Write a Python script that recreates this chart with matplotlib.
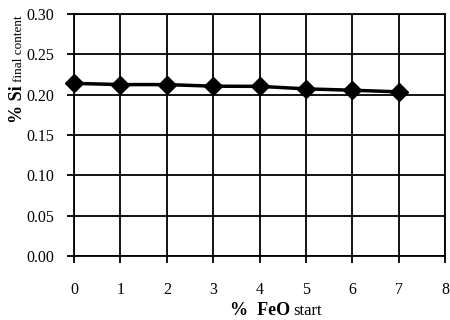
import matplotlib
matplotlib.use("Agg")
import matplotlib.pyplot as plt

# data
feo_start = [0, 1, 2, 3, 4, 5, 6, 7]
si_final = [0.214, 0.2125, 0.2125, 0.2105, 0.2103, 0.2072, 0.2055, 0.2035]
x_ticks = [0, 1, 2, 3, 4, 5, 6, 7, 8]
y_ticks = [0.00, 0.05, 0.10, 0.15, 0.20, 0.25, 0.30]

plt.rcParams['font.family'] = ['Liberation Serif', 'DejaVu Serif']

fig = plt.figure(figsize=(4.5, 3.2), dpi=100)
ax = fig.add_axes([74 / 450, 1 - 256 / 320, (445 - 74) / 450, (256 - 14) / 320])

ax.plot(feo_start, si_final, color='black', lw=2.5, marker='D', markersize=9,
        markerfacecolor='black', markeredgecolor='black', clip_on=False, zorder=3)

ax.set_xlim(0, 8)
ax.set_ylim(0, 0.30)
ax.set_xticks(x_ticks)
ax.set_yticks(y_ticks)
ax.set_yticklabels([f"{v:.2f}" for v in y_ticks])
ax.grid(True, color='black', lw=1.3)
ax.set_axisbelow(True)
for s in ax.spines.values():
    s.set_linewidth(1.3)
ax.tick_params(axis='both', direction='out', length=5, width=1.3, labelsize=11.5)
ax.tick_params(axis='x', pad=14)
ax.tick_params(axis='y', pad=9)

# x label: bold part + normal part
fig.text(230 / 450, 1 - 315 / 320, "%  FeO", fontsize=13, fontweight='bold',
         ha='left', va='baseline')
fig.text(293 / 450, 1 - 315 / 320, "start", fontsize=12, ha='left', va='baseline')

# y label: bold part + normal part, rotated and chained bottom to top
t1 = fig.text(22 / 450, 1 - 123 / 320, "% Si", fontsize=13, fontweight='bold',
              rotation=90, rotation_mode='anchor', ha='left', va='baseline')
fig.canvas.draw()
top = t1.get_window_extent().y1
fig.text(22 / 450, (top + 3) / 320, "final content", fontsize=9.5,
         rotation=90, rotation_mode='anchor', ha='left', va='baseline')

fig.savefig("out.png", dpi=100)
